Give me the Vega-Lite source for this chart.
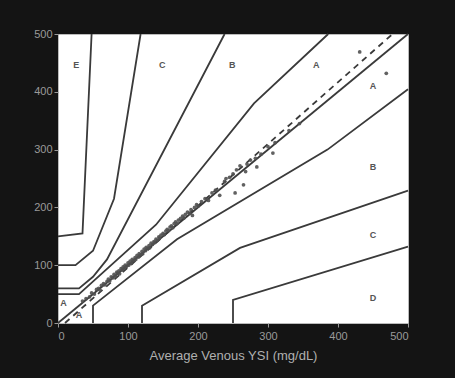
{
  "$schema": "https://vega.github.io/schema/vega-lite/v6.json",
  "width": 350,
  "height": 289,
  "autosize": {"type": "none"},
  "padding": {"left": 58, "top": 34, "right": 47, "bottom": 55},
  "background": "#141414",
  "config": {
    "view": {"fill": "#ffffff", "stroke": "#bbbbbb", "strokeWidth": 1},
    "axis": {"grid": false, "domain": false, "tickColor": "#999999", "tickSize": 4, "labelColor": "#9a9a9a", "labelFont": "Liberation Sans", "labelFontSize": 11, "titleFont": "Liberation Sans"}
  },
  "datasets": {
    "grid": [
      {"seg": "UA", "i": 1, "x": 0, "y": 50}, {"seg": "UA", "i": 2, "x": 30, "y": 50}, {"seg": "UA", "i": 3, "x": 140, "y": 170}, {"seg": "UA", "i": 4, "x": 280, "y": 380}, {"seg": "UA", "i": 5, "x": 386, "y": 500},
      {"seg": "LA", "i": 1, "x": 50, "y": 0}, {"seg": "LA", "i": 2, "x": 50, "y": 30}, {"seg": "LA", "i": 3, "x": 170, "y": 145}, {"seg": "LA", "i": 4, "x": 385, "y": 300}, {"seg": "LA", "i": 5, "x": 500, "y": 404.5},
      {"seg": "UB", "i": 1, "x": 0, "y": 60}, {"seg": "UB", "i": 2, "x": 30, "y": 60}, {"seg": "UB", "i": 3, "x": 50, "y": 80}, {"seg": "UB", "i": 4, "x": 70, "y": 110}, {"seg": "UB", "i": 5, "x": 238, "y": 500},
      {"seg": "LB", "i": 1, "x": 120, "y": 0}, {"seg": "LB", "i": 2, "x": 120, "y": 30}, {"seg": "LB", "i": 3, "x": 260, "y": 130}, {"seg": "LB", "i": 4, "x": 500, "y": 229},
      {"seg": "UC", "i": 1, "x": 0, "y": 100}, {"seg": "UC", "i": 2, "x": 25, "y": 100}, {"seg": "UC", "i": 3, "x": 50, "y": 125}, {"seg": "UC", "i": 4, "x": 80, "y": 215}, {"seg": "UC", "i": 5, "x": 118, "y": 500},
      {"seg": "LC", "i": 1, "x": 250, "y": 0}, {"seg": "LC", "i": 2, "x": 250, "y": 40}, {"seg": "LC", "i": 3, "x": 500, "y": 132},
      {"seg": "UD", "i": 1, "x": 0, "y": 150}, {"seg": "UD", "i": 2, "x": 35, "y": 155}, {"seg": "UD", "i": 3, "x": 48, "y": 500},
      {"seg": "ID", "i": 1, "x": 0, "y": 0}, {"seg": "ID", "i": 2, "x": 500, "y": 500}
    ],
    "reg": [
      {"i": 1, "x": 10, "y": 0}, {"i": 2, "x": 478, "y": 500}
    ],
    "labels": [
      {"t": "E", "x": 26, "y": 446}, {"t": "C", "x": 149, "y": 446}, {"t": "B", "x": 249, "y": 446}, {"t": "A", "x": 369, "y": 446},
      {"t": "A", "x": 450, "y": 410}, {"t": "B", "x": 450, "y": 270}, {"t": "C", "x": 450, "y": 152}, {"t": "D", "x": 450, "y": 43},
      {"t": "A", "x": 8, "y": 35}, {"t": "A", "x": 30, "y": 14}
    ],
    "pts": [
      {"x": 35, "y": 38}, {"x": 40, "y": 42}, {"x": 45, "y": 45}, {"x": 48, "y": 52}, {"x": 52, "y": 50}, {"x": 55, "y": 58}, {"x": 58, "y": 60}, {"x": 60, "y": 57}, {"x": 62, "y": 65}, {"x": 65, "y": 68},
      {"x": 67, "y": 66}, {"x": 70, "y": 72}, {"x": 72, "y": 76}, {"x": 74, "y": 73}, {"x": 76, "y": 80}, {"x": 78, "y": 78}, {"x": 80, "y": 84}, {"x": 82, "y": 81}, {"x": 84, "y": 88}, {"x": 85, "y": 86},
      {"x": 87, "y": 90}, {"x": 88, "y": 85}, {"x": 90, "y": 94}, {"x": 92, "y": 92}, {"x": 93, "y": 97}, {"x": 95, "y": 95}, {"x": 96, "y": 100}, {"x": 98, "y": 98}, {"x": 100, "y": 104}, {"x": 101, "y": 100},
      {"x": 103, "y": 107}, {"x": 105, "y": 103}, {"x": 106, "y": 110}, {"x": 108, "y": 108}, {"x": 110, "y": 113}, {"x": 111, "y": 110}, {"x": 113, "y": 117}, {"x": 115, "y": 114}, {"x": 116, "y": 120}, {"x": 118, "y": 118},
      {"x": 120, "y": 124}, {"x": 121, "y": 120}, {"x": 123, "y": 128}, {"x": 125, "y": 125}, {"x": 126, "y": 131}, {"x": 128, "y": 129}, {"x": 130, "y": 134}, {"x": 131, "y": 130}, {"x": 133, "y": 138}, {"x": 135, "y": 136},
      {"x": 137, "y": 141}, {"x": 138, "y": 139}, {"x": 140, "y": 145}, {"x": 142, "y": 143}, {"x": 144, "y": 149}, {"x": 145, "y": 147}, {"x": 147, "y": 152}, {"x": 150, "y": 155}, {"x": 152, "y": 153}, {"x": 154, "y": 159},
      {"x": 156, "y": 162}, {"x": 158, "y": 160}, {"x": 160, "y": 166}, {"x": 162, "y": 168}, {"x": 164, "y": 165}, {"x": 166, "y": 172}, {"x": 168, "y": 175}, {"x": 170, "y": 172}, {"x": 172, "y": 178}, {"x": 175, "y": 181},
      {"x": 178, "y": 185}, {"x": 180, "y": 182}, {"x": 182, "y": 188}, {"x": 185, "y": 192}, {"x": 188, "y": 190}, {"x": 190, "y": 196}, {"x": 192, "y": 186}, {"x": 195, "y": 200}, {"x": 198, "y": 205}, {"x": 200, "y": 202},
      {"x": 205, "y": 210}, {"x": 210, "y": 215}, {"x": 215, "y": 212}, {"x": 220, "y": 225}, {"x": 225, "y": 230}, {"x": 231, "y": 221}, {"x": 238, "y": 245}, {"x": 240, "y": 250}, {"x": 245, "y": 252}, {"x": 250, "y": 258},
      {"x": 253, "y": 225}, {"x": 255, "y": 265}, {"x": 260, "y": 272}, {"x": 265, "y": 239}, {"x": 268, "y": 262}, {"x": 270, "y": 275}, {"x": 275, "y": 282}, {"x": 284, "y": 270}, {"x": 282, "y": 285}, {"x": 290, "y": 292},
      {"x": 300, "y": 305}, {"x": 307, "y": 294}, {"x": 310, "y": 312}, {"x": 330, "y": 333}, {"x": 345, "y": 345}, {"x": 431, "y": 469}, {"x": 469, "y": 432}
    ]
  },
  "encoding": {
    "x": {"field": "x", "type": "quantitative", "scale": {"domain": [0, 500], "nice": false}, "axis": {"values": [0, 100, 200, 300, 400, 500], "labelPadding": 3, "title": "Average Venous YSI (mg/dL)", "titleColor": "#b0b0b0", "titleFontSize": 13, "titleFontWeight": "normal", "titlePadding": 8}},
    "y": {"field": "y", "type": "quantitative", "scale": {"domain": [0, 500], "nice": false}, "axis": {"values": [0, 100, 200, 300, 400, 500], "labelPadding": 2, "title": null}}
  },
  "layer": [
    {
      "data": {"name": "grid"},
      "mark": {"type": "line", "color": "#3a3a3a", "strokeWidth": 1.8},
      "encoding": {"detail": {"field": "seg"}, "order": {"field": "i", "type": "quantitative"}}
    },
    {
      "data": {"name": "reg"},
      "mark": {"type": "line", "color": "#3a3a3a", "strokeWidth": 1.8, "strokeDash": [6, 5]},
      "encoding": {"order": {"field": "i", "type": "quantitative"}}
    },
    {
      "data": {"name": "pts"},
      "mark": {"type": "point", "filled": true, "color": "#505050", "size": 14, "opacity": 0.9}
    },
    {
      "data": {"name": "labels"},
      "mark": {"type": "text", "color": "#555555", "fontSize": 9, "fontWeight": "bold", "font": "Liberation Sans"},
      "encoding": {"text": {"field": "t"}}
    }
  ]
}
